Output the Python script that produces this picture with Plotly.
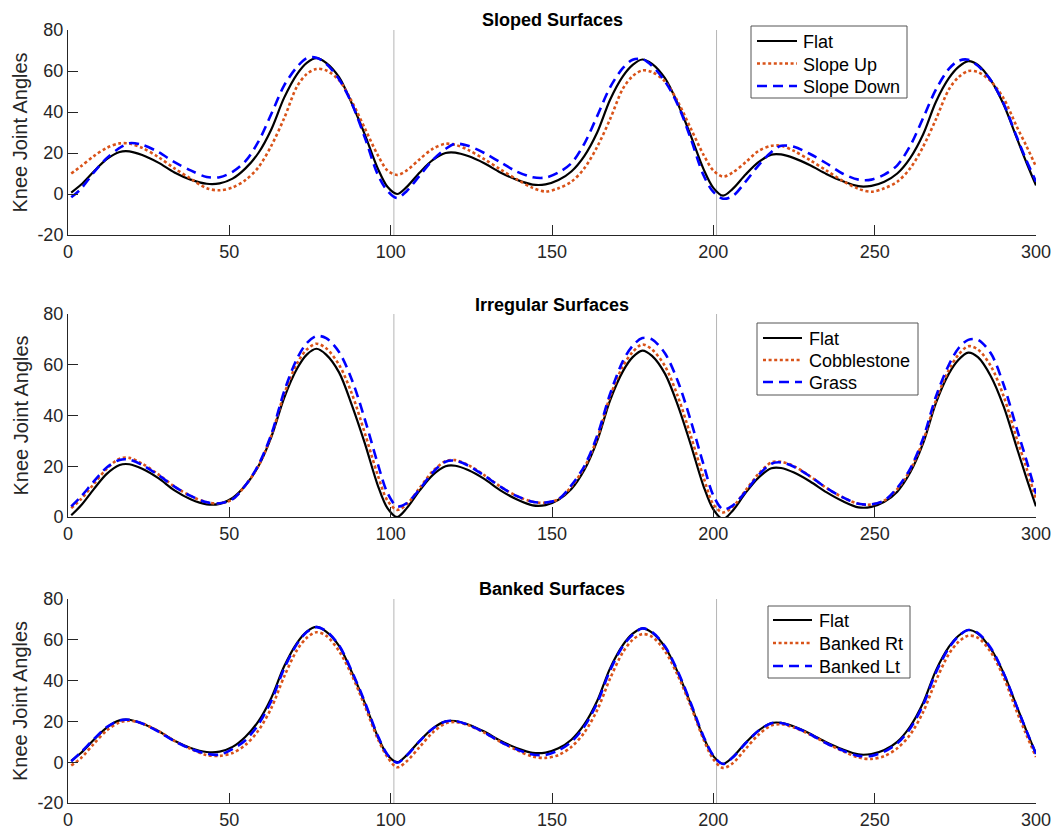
import plotly.graph_objects as go

# ---------------- data ----------------
X = [1, 4, 8, 12, 16, 19, 23, 28, 33, 38, 43, 47, 51, 55, 59, 63, 67, 71, 74, 77, 80, 84, 88, 92, 96, 99,
     102, 105, 109, 113, 117, 120, 124, 129, 134, 139, 144, 148, 152, 156, 160, 164, 168, 172, 175, 178, 181, 185, 189, 193, 197, 200,
     203, 206, 210, 214, 218, 221, 225, 230, 235, 240, 245, 249, 253, 257, 261, 265, 269, 273, 276, 279, 282, 286, 290, 294, 297, 300]

FLAT = [0.7, 4.5, 11, 17, 20.5, 20.8, 19, 15.3, 10.5, 7.0, 5.0, 5.2, 7.5, 12.5, 20, 31.5, 47, 58.5, 64, 66.3, 64, 57, 44, 29, 12.5, 3.5,
        0.0, 3.5, 10.5, 16.5, 20, 20.2, 18.5, 15, 10.5, 7, 4.6, 4.7, 6.8, 11, 18.5, 30, 46, 57.5, 63, 65.6, 63.5, 56.5, 44, 28.5, 12, 3,
        -0.8, 2.5, 9.5, 15.5, 19.2, 19.3, 17.5, 14, 9.8, 6.3, 3.8, 4, 6, 10, 17.5, 29, 45, 56.5, 62, 64.8, 63, 55.5, 43.5, 27.5, 15.5, 4.2]

SLOPE_UP = [10, 13.5, 18.5, 22.5, 24.7, 24.6, 22.5, 18, 12.5, 7.5, 2.8, 1.8, 3.2, 6.8, 13, 23.5, 37, 52.5, 58.5, 61, 60.3, 55.5, 45, 32, 19, 11.5,
            9.3, 11.5, 17, 22, 24.5, 24, 21.5, 17, 12, 7.2, 3, 1.2, 2.8, 6, 12.5, 23, 36.5, 51.5, 57.5, 60.3, 59.5, 55, 45, 32, 19, 11.5,
            8.5, 10.5, 15.5, 21, 23.5, 23.5, 21, 16.5, 11.5, 6.5, 2.5, 1.1, 2.8, 6, 12.5, 23, 36.5, 51, 57, 60, 59.5, 55, 46.5, 33, 23.5, 13.4]

SLOPE_DOWN = [-1.6, 2.5, 10.5, 17.5, 22.5, 24.8, 24, 20.5, 15.5, 11.5, 8.3, 8.2, 10.8, 16, 25.5, 39, 53, 62, 66.3, 66.5, 63.5, 56, 44, 27.5, 9.5, 1.5,
              -2, 1.5, 9, 16.5, 22, 24.5, 23.5, 20, 15.5, 11, 8.2, 8, 10.5, 15, 24.5, 38, 52, 61.5, 65.5, 65.8, 62.5, 55, 43.5, 27, 9, 1,
              -2.3, -1, 6, 14, 20.5, 23.5, 23, 19.5, 15, 10, 7, 7, 9.5, 14, 23.5, 37, 51, 61, 65, 65.5, 62.5, 55.5, 44, 28, 16.5, 6]

COBBLESTONE = [3.5, 7, 13, 19, 23, 23.3, 21, 16.8, 12, 8.3, 5.8, 5.4, 7, 12.5, 20, 32, 48.5, 60.5, 66, 68.3, 66.5, 60, 48.5, 33, 16.5, 6.5,
               2.8, 5, 11.5, 18, 22, 22.4, 20.5, 16.5, 12, 8.3, 6, 5.6, 7, 12, 19.5, 31, 47.5, 59.5, 65, 68, 66, 59.5, 47.5, 32, 15.5, 5,
               1.8, 4, 10.5, 17, 21.5, 21.8, 20, 16, 11.5, 7.8, 5.2, 4.9, 6.5, 11, 18.5, 30, 46, 58, 64, 67.3, 66, 59.5, 47.5, 31, 19.5, 6.8]

GRASS = [4.2, 8, 14, 19.5, 22.5, 22.6, 20.5, 16.5, 12, 8.3, 5.8, 5.4, 7, 12.5, 20.5, 32.5, 49.5, 62.5, 68.5, 71.3, 70.5, 65, 54, 38.5, 21, 9.5,
         4.2, 5.5, 11, 17.5, 21.8, 22.2, 20.3, 16.3, 12, 8.3, 6, 5.7, 7, 12.5, 20, 32, 48.5, 61.5, 67.5, 70.5, 70, 64.5, 53.5, 38, 20.5, 8.5,
         3, 4.5, 10, 16.5, 21, 21.5, 19.8, 16, 11.5, 7.8, 5.2, 5, 6.5, 11.5, 19, 31, 47.5, 60, 66.5, 69.8, 69.8, 64.5, 52, 35, 22.5, 9.2]

BANKED_RT = [-1.6, 2, 9, 15.5, 19.5, 20.3, 19, 15.3, 10.5, 6.5, 3.5, 3.1, 4.5, 8.5, 15.5, 26.5, 42, 55, 61, 63.7, 62, 54.5, 42.5, 27.5, 11.5, 2.5,
             -2.5, 0.5, 7.5, 14.5, 19, 19.7, 18.2, 14.5, 10, 6, 2.8, 2.1, 3.5, 7.5, 14.5, 25.5, 41, 54, 60, 62.8, 61.5, 54.5, 42.5, 27.5, 11, 1.5,
             -2.8, -0.5, 6.5, 13.5, 18, 18.6, 17, 13.5, 9.3, 5.5, 2.3, 1.6, 3, 6.8, 13.5, 24.5, 40, 53, 59, 62, 61, 54, 41.5, 25, 13.5, 2.5]

BANKED_LT = [0.5, 4.8, 11.3, 17.2, 20.5, 20.8, 19, 15, 10.3, 6.6, 4.1, 3.7, 6.5, 10.8, 18.5, 30, 46, 58, 63.8, 66.2, 64.3, 57.3, 44.5, 29.5, 13, 3.8,
             -0.3, 3.3, 10.3, 16.4, 20, 20.2, 18.3, 14.6, 10, 6.3, 3.8, 3.6, 5.8, 10, 17.5, 29, 45, 57, 62.5, 65.6, 63.8, 56.8, 44.5, 29, 12.5, 3.3,
             -0.9, 2.3, 9.3, 15.4, 19.1, 19.2, 17.3, 13.7, 9.3, 5.8, 3.1, 3.1, 5.2, 9.2, 16.5, 28, 44, 56, 61.8, 64.8, 63.3, 56, 43.5, 27.5, 15.5, 4]

TITLES = ["Sloped Surfaces", "Irregular Surfaces", "Banked Surfaces"]
NAMES = [["Flat", "Slope Up", "Slope Down"],
         ["Flat", "Cobblestone", "Grass"],
         ["Flat", "Banked Rt", "Banked Lt"]]
SERIES = [[FLAT, SLOPE_UP, SLOPE_DOWN],
          [FLAT, COBBLESTONE, GRASS],
          [FLAT, BANKED_RT, BANKED_LT]]
Y_RANGES = [[-20, 80], [0, 80], [-20, 80]]
X_TICKS = [0, 50, 100, 150, 200, 250, 300]
Y_TICKS = [-20, 0, 20, 40, 60, 80]
CYCLE_MARKS = [101, 201]
Y_LABEL = "Knee Joint Angles"

# ---------------- styling / layout ----------------
W, H = 1055, 831
FONT = "Liberation Sans, Arial, Helvetica, sans-serif"
AX = "#262626"
STYLES = [dict(color="black", width=2.2, dash="solid"),
          dict(color="#D95319", width=2.6, dash="3px,2.6px"),
          dict(color="#0000FF", width=2.6, dash="10px,6px")]

def px(xp):
    return xp / W

def py(yp):
    return 1 - yp / H

left_px, right_px = 68, 1036
panels_px = [(30, 235), (314, 517), (599, 803)]
# legend boxes (x0, y0, x1, y1), line-sample x range, text x, row centres
legend_boxes = [(751, 26, 907, 98), (757, 323, 918, 395), (768, 606, 910, 678)]
legend_lines = [(757, 797), (763, 802), (773, 812)]
legend_text_x = [801, 807, 817]
legend_rows = [(41, 63.5, 86), (338, 360, 382), (620, 643, 666)]
title_px = [20, 305, 589]

fig = go.Figure()
layout = dict(width=W, height=H, margin=dict(l=0, r=0, t=0, b=0, autoexpand=False),
              paper_bgcolor="white", plot_bgcolor="white", showlegend=False,
              font=dict(family=FONT, color=AX))
annotations, shapes = [], []

for i in range(3):
    sfx = "" if i == 0 else str(i + 1)
    top, bot = panels_px[i]
    xd = [px(left_px), px(right_px)]
    yd = [py(bot), py(top)]
    for j in range(3):
        fig.add_trace(go.Scatter(
            x=X, y=SERIES[i][j], mode="lines", name=NAMES[i][j],
            line=dict(shape="spline", smoothing=0.9, **STYLES[j]),
            xaxis="x" + sfx, yaxis="y" + sfx))
    yt = [t for t in Y_TICKS if Y_RANGES[i][0] <= t <= Y_RANGES[i][1]]
    layout["xaxis" + sfx] = dict(domain=xd, anchor="y" + sfx, range=[0, 300], automargin=False,
                                 tickvals=X_TICKS, ticktext=[str(t) for t in X_TICKS],
                                 ticks="inside", ticklen=10, tickcolor=AX,
                                 showline=True, linecolor=AX, linewidth=1,
                                 showgrid=False, zeroline=False,
                                 tickfont=dict(size=18, color=AX, family=FONT))
    layout["yaxis" + sfx] = dict(domain=yd, anchor="x" + sfx, range=Y_RANGES[i], automargin=False,
                                 tickvals=yt, ticktext=[str(t) for t in yt],
                                 ticks="inside", ticklen=10, tickcolor=AX,
                                 showline=True, linecolor=AX, linewidth=1,
                                 showgrid=False, zeroline=False,
                                 tickfont=dict(size=18, color=AX, family=FONT))
    for cx in CYCLE_MARKS:
        shapes.append(dict(type="line", xref="x" + sfx, yref="y" + sfx + " domain",
                           x0=cx, x1=cx, y0=0, y1=1,
                           line=dict(color="#b5b5b5", width=1), layer="below"))
    # legend box
    bx0, by0, bx1, by1 = legend_boxes[i]
    shapes.append(dict(type="rect", xref="paper", yref="paper",
                       x0=px(bx0), x1=px(bx1), y0=py(by1), y1=py(by0),
                       fillcolor="white", line=dict(color="#555555", width=1), layer="above"))
    lx0, lx1 = legend_lines[i]
    for j in range(3):
        ry = legend_rows[i][j]
        shapes.append(dict(type="line", xref="paper", yref="paper",
                           x0=px(lx0), x1=px(lx1), y0=py(ry), y1=py(ry),
                           line=STYLES[j], layer="above"))
        annotations.append(dict(text=NAMES[i][j], xref="paper", yref="paper",
                                x=px(legend_text_x[i]), y=py(ry + 1),
                                xanchor="left", yanchor="middle", showarrow=False,
                                font=dict(size=18, color="black", family=FONT)))
    annotations.append(dict(text="<b>" + TITLES[i] + "</b>", xref="paper", yref="paper",
                            x=px((left_px + right_px) / 2), y=py(title_px[i]),
                            xanchor="center", yanchor="middle", showarrow=False,
                            font=dict(size=18, color="black", family=FONT)))
    annotations.append(dict(text=Y_LABEL, xref="paper", yref="paper",
                            x=px(20), y=py((top + bot) / 2), textangle=-90,
                            xanchor="center", yanchor="middle", showarrow=False,
                            font=dict(size=20, color=AX, family=FONT)))

layout["annotations"] = annotations
layout["shapes"] = shapes
fig.update_layout(**layout)
fig.write_html("out.html",
               config={"displayModeBar": False},
               post_script="document.body.style.margin='0';document.body.style.overflow='hidden';")
